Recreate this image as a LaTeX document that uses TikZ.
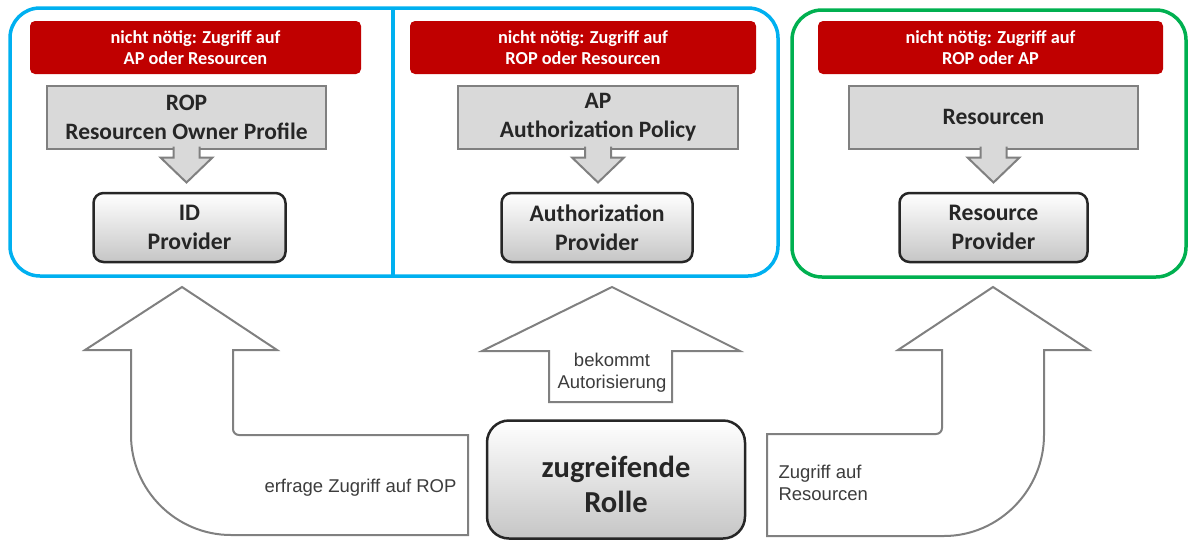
\documentclass[tikz,border=0pt]{standalone}
\usepackage{fontspec}
\setmainfont{Carlito}
\newfontfamily\arialfont{Liberation Sans}
\usetikzlibrary{positioning}
\definecolor{hellblau}{HTML}{00B0F0}
\definecolor{gruen}{HTML}{00B050}
\definecolor{dunkelrot}{HTML}{C00000}
\definecolor{rahmengrau}{HTML}{808080}
\definecolor{fuellgrau}{HTML}{D9D9D9}
\definecolor{schrift}{HTML}{262626}
\tikzset{hinweis/.style={rectangle, rounded corners=5pt, fill=dunkelrot, text=white, font=\bfseries\fontsize{18.3}{21}\selectfont, align=center, minimum height=53pt},
  datenbox/.style={rectangle, draw=rahmengrau, line width=2pt, fill=fuellgrau, text=schrift, font=\bfseries\fontsize{23.5}{29}\selectfont, align=center, minimum height=63pt},
  provider/.style={rectangle, rounded corners=10pt, draw=schrift, line width=2.5pt, top color=white, bottom color=gray!45, text=schrift, font=\bfseries\fontsize{23.7}{29}\selectfont, align=center, minimum height=69pt},
  blockpfeil/.style={draw=rahmengrau, line width=2pt, fill=white, line join=miter},
  beschriftung/.style={font=\arialfont\fontsize{18.5}{22}\selectfont, text=schrift!90},}
\newcommand{\herab}[1]{\filldraw[draw=rahmengrau, line width=2pt, fill=fuellgrau] (#1.south) ++(-13,-3) -- ++(0,11) -- ++(-13,0) -- ++(26,25) -- ++(26,-25) -- ++(-13,0) -- ++(0,-11);}

\begin{document}
\begin{tikzpicture}[x=1pt, y=-1pt]
\useasboundingbox (0,0) rectangle (1188,541);
% Rahmen
\draw[hellblau, line width=3.5pt, rounded corners=30pt] (10,8) rectangle (778,276);
\draw[hellblau, line width=3.5pt] (393,8) -- (393,276);
\draw[gruen, line width=3.5pt, rounded corners=30pt] (792,10) rectangle (1186,277);
% Hinweise
\node [hinweis, minimum width=331pt] (h1) at (195.5,47.5) {nicht nötig: Zugriff auf\\AP oder Resourcen};
\node [hinweis, minimum width=346pt] (h2) at (583,47.5) {nicht nötig: Zugriff auf\\ROP oder Resourcen};
\node [hinweis, minimum width=345pt] (h3) at (990.5,47.5) {nicht nötig: Zugriff auf\\ROP oder AP};
% Daten
\node [datenbox, minimum width=279pt] (rop) at (186.5,117) {ROP\\Resourcen Owner Profile};
\node [datenbox, minimum width=280pt] (ap) at (598,117) {AP\\Authorization Policy};
\node [datenbox, minimum width=289pt] (res) at (993.5,117) {Resourcen};
\herab{rop}
\herab{ap}
\herab{res}
% Provider
\node [provider, minimum width=192pt] (idp) at (189.5,227.5) {ID\\Provider};
\node [provider, minimum width=191pt] (authp) at (597,227.5) {Authorization\\Provider};
\node [provider, minimum width=188pt] (resp) at (993.5,227.5) {Resource\\Provider};
% Pfeile
\draw[blockpfeil] (182,287) -- (277,350) -- (233,350) -- (233,429) arc[start angle=180, end angle=90, radius=6] -- (468,435) -- (468,535) -- (231,535) .. controls (176,535) and (131,490) .. (131,435) -- (131,350) -- (85,350) -- cycle;
\draw[blockpfeil] (612,287) -- (740,351) -- (672,351) -- (672,402) -- (549,402) -- (549,351) -- (482,351) -- cycle;
\draw[blockpfeil] (993,287) -- (1089,350) -- (1044,350) -- (1044,435) .. controls (1044,490) and (999,536) .. (944,536) -- (767,536) -- (767,434) -- (936,434) arc[start angle=90, end angle=0, radius=6] -- (942,350) -- (898,350) -- cycle;
\node [beschriftung, anchor=east] (l1) at (460,488) {erfrage Zugriff auf ROP};
\node [beschriftung, align=center] (l2) at (612,373) {bekommt\\Autorisierung};
\node [beschriftung, anchor=west, align=left] (l3) at (775,483) {Zugriff auf\\Resourcen};
% Rolle
\node [provider, rounded corners=22pt, minimum width=258pt, minimum height=118pt, text height=67pt, font=\bfseries\fontsize{30.5}{35}\selectfont] (rolle) at (616,479.5) {zugreifende\\Rolle};
\end{tikzpicture}
\end{document}
